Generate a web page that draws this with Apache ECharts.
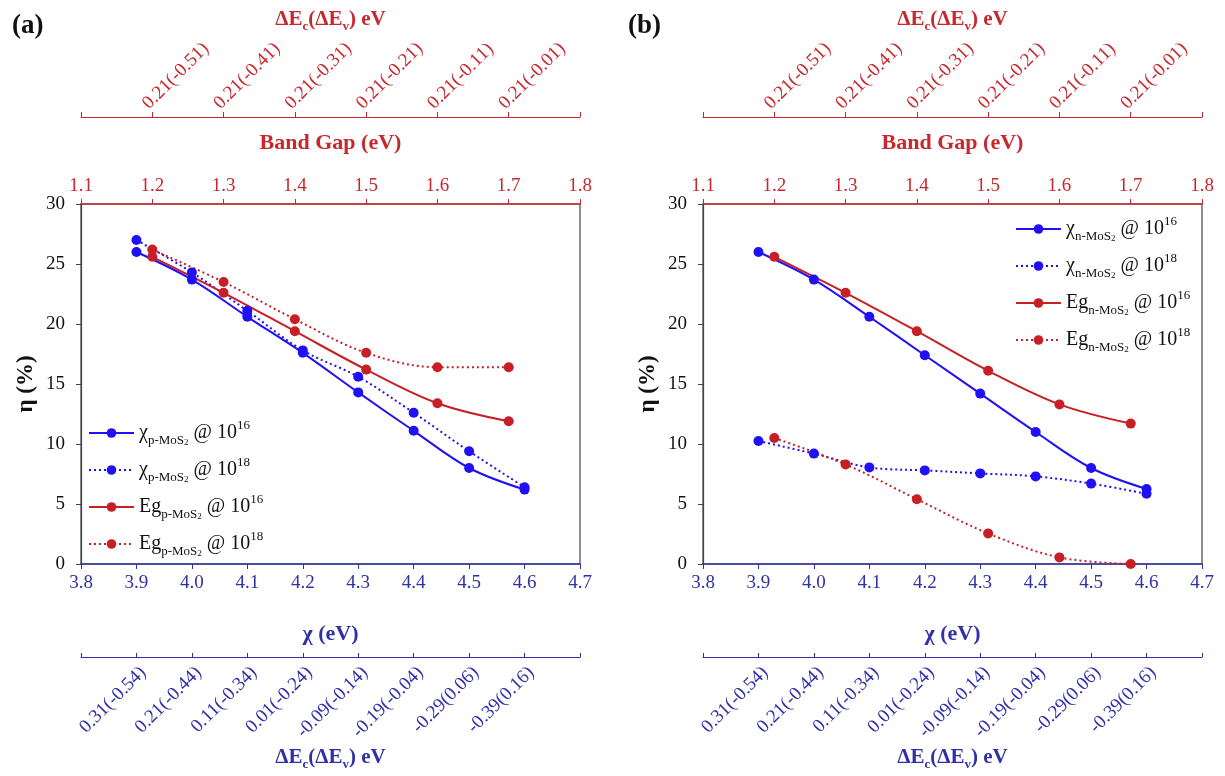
<!DOCTYPE html>
<html><head><meta charset="utf-8">
<script src="https://cdn.jsdelivr.net/npm/echarts@6/dist/echarts.min.js"></script>
<style>html,body{margin:0;padding:0;background:#fff}#c{width:1225px;height:776px}</style>
</head><body><div id="c"></div>
<script>
// ---- data ----
const chiValues = [3.9, 4.0, 4.1, 4.2, 4.3, 4.4, 4.5, 4.6];
const bandGapValues = [1.2, 1.3, 1.4, 1.5, 1.6, 1.7];
const topOffsetLabels = ['0.21(-0.51)', '0.21(-0.41)', '0.21(-0.31)', '0.21(-0.21)', '0.21(-0.11)', '0.21(-0.01)'];
const bottomOffsetLabels = ['0.31(-0.54)', '0.21(-0.44)', '0.11(-0.34)', '0.01(-0.24)', '-0.09(-0.14)', '-0.19(-0.04)', '-0.29(0.06)', '-0.39(0.16)'];
// panel (a) p-MoS2
const aChi16 = [26.0, 23.7, 20.6, 17.6, 14.3, 11.1, 8.0, 6.2];
const aChi18 = [27.0, 24.3, 21.1, 17.8, 15.6, 12.6, 9.4, 6.4];
const aEg16 = [25.6, 22.6, 19.4, 16.2, 13.4, 11.9];
const aEg18 = [26.2, 23.5, 20.4, 17.6, 16.4, 16.4];
// panel (b) n-MoS2
const bChi16 = [26.0, 23.7, 20.6, 17.4, 14.2, 11.0, 8.0, 6.25];
const bChi18 = [10.25, 9.2, 8.05, 7.8, 7.55, 7.3, 6.7, 5.85];
const bEg16 = [25.6, 22.6, 19.4, 16.1, 13.3, 11.7];
const bEg18 = [10.5, 8.3, 5.4, 2.55, 0.55, 0.0];

// ---- style ----
const FONT = 'Liberation Serif';
const BLUE = '#2010f5';
const RED = '#c62026';
const BLUE_AX = '#3030a8';
const RED_AX = '#c8282d';
const GREY = '#444';

const grids = [
  {left: 81, top: 204, width: 499, height: 360},
  {left: 703, top: 204, width: 499, height: 360}
];

function lookup(vals, labels) {
  return function (v) {
    for (let i = 0; i < vals.length; i++) if (Math.abs(vals[i] - v) < 1e-6) return labels[i];
    return '';
  };
}

const deltaName = '{b|ΔE}{s|c}{b|(ΔE}{s|v}{b|) eV}';
function deltaNameStyle(color) {
  return {
    color: color, fontFamily: FONT, fontWeight: 'bold', fontSize: 21,
    rich: {
      b: {color: color, fontFamily: FONT, fontWeight: 'bold', fontSize: 21, lineHeight: 26},
      s: {color: color, fontFamily: FONT, fontWeight: 'bold', fontSize: 13, lineHeight: 10, verticalAlign: 'bottom'}
    }
  };
}

const xAxes = [], yAxes = [];
grids.forEach((g, gi) => {
  // bottom chi axis
  xAxes.push({
    type: 'value', gridIndex: gi, position: 'bottom', min: 3.8, max: 4.7, interval: 0.1,
    axisLine: {show: true, onZero: false, lineStyle: {color: BLUE_AX, width: 1.5}},
    axisTick: {show: true, length: 5, lineStyle: {color: BLUE_AX}},
    axisLabel: {color: BLUE_AX, fontFamily: FONT, fontSize: 19, margin: 10, formatter: v => v.toFixed(1)},
    splitLine: {show: false},
    name: 'χ (eV)', nameLocation: 'middle', nameGap: 59,
    nameTextStyle: {color: BLUE_AX, fontFamily: FONT, fontWeight: 'bold', fontSize: 22}
  });
  // top band gap axis
  xAxes.push({
    type: 'value', gridIndex: gi, position: 'top', min: 1.1, max: 1.8, interval: 0.1,
    axisLine: {show: true, onZero: false, lineStyle: {color: RED_AX, width: 1.5}},
    axisTick: {show: true, length: 5, lineStyle: {color: RED_AX}},
    axisLabel: {color: RED_AX, fontFamily: FONT, fontSize: 19, margin: 8, formatter: v => v.toFixed(1)},
    splitLine: {show: false},
    name: 'Band Gap (eV)', nameLocation: 'middle', nameGap: 50,
    nameTextStyle: {color: RED_AX, fontFamily: FONT, fontWeight: 'bold', fontSize: 22}
  });
  // top offset axis (ΔEc(ΔEv))
  xAxes.push({
    type: 'value', gridIndex: gi, position: 'top', offset: 87, min: 1.1, max: 1.8, interval: 0.1,
    axisLine: {show: true, onZero: false, lineStyle: {color: RED_AX, width: 1.2}},
    axisTick: {show: true, length: 5, lineStyle: {color: RED_AX}},
    axisLabel: {color: RED_AX, fontFamily: FONT, fontSize: 19, margin: 4, rotate: -45,
      verticalAlign: 'bottom',
      showMinLabel: true, showMaxLabel: true, formatter: lookup(bandGapValues, topOffsetLabels)},
    splitLine: {show: false},
    name: deltaName, nameLocation: 'middle', nameGap: 84,
    nameTextStyle: deltaNameStyle(RED_AX)
  });
  // bottom offset axis (ΔEc(ΔEv))
  xAxes.push({
    type: 'value', gridIndex: gi, position: 'bottom', offset: 93, min: 3.8, max: 4.7, interval: 0.1,
    axisLine: {show: true, onZero: false, lineStyle: {color: BLUE_AX, width: 1.2}},
    axisTick: {show: true, inside: true, length: 4, lineStyle: {color: BLUE_AX}},
    axisLabel: {color: BLUE_AX, fontFamily: FONT, fontSize: 19, margin: 6, rotate: 45,
      verticalAlign: 'top',
      showMinLabel: true, showMaxLabel: true, formatter: lookup(chiValues, bottomOffsetLabels)},
    splitLine: {show: false},
    name: deltaName, nameLocation: 'middle', nameGap: 88,
    nameTextStyle: deltaNameStyle(BLUE_AX)
  });
  yAxes.push({
    type: 'value', gridIndex: gi, min: 0, max: 30, interval: 5,
    axisLine: {show: true, onZero: false, lineStyle: {color: GREY, width: 1.2}},
    axisTick: {show: true, length: 5, lineStyle: {color: GREY}},
    axisLabel: {color: '#111', fontFamily: FONT, fontSize: 19, margin: 16},
    splitLine: {show: false},
    name: 'η (%)', nameLocation: 'middle', nameGap: 43, nameRotate: 90, nameMoveOverlap: false,
    nameTextStyle: {color: '#111', fontFamily: FONT, fontWeight: 'bold', fontSize: 23}
  });
});

function mkSeries(name, gi, isChi, values, color, dotted) {
  const xs = isChi ? chiValues : bandGapValues;
  return {
    type: 'line', name: name,
    xAxisIndex: gi * 4 + (isChi ? 0 : 1), yAxisIndex: gi,
    data: xs.map((x, i) => [x, values[i]]),
    smooth: 0.35, symbol: 'circle', symbolSize: 10, showSymbol: true,
    lineStyle: {color: color, width: 2, type: dotted ? [2, 3] : 'solid'},
    itemStyle: {color: color},
    emphasis: {disabled: true}
  };
}

const series = [
  mkSeries('aC16', 0, true, aChi16, BLUE, false),
  mkSeries('aC18', 0, true, aChi18, BLUE, true),
  mkSeries('aE16', 0, false, aEg16, RED, false),
  mkSeries('aE18', 0, false, aEg18, RED, true),
  mkSeries('bC16', 1, true, bChi16, BLUE, false),
  mkSeries('bC18', 1, true, bChi18, BLUE, true),
  mkSeries('bE16', 1, false, bEg16, RED, false),
  mkSeries('bE18', 1, false, bEg18, RED, true)
];

const legendText = {
  aC16: '{m|χ}{s|p-MoS}{t|2}{m| @ 10}{p|16}',
  aC18: '{m|χ}{s|p-MoS}{t|2}{m| @ 10}{p|18}',
  aE16: '{m|Eg}{s|p-MoS}{t|2}{m| @ 10}{p|16}',
  aE18: '{m|Eg}{s|p-MoS}{t|2}{m| @ 10}{p|18}',
  bC16: '{m|χ}{s|n-MoS}{t|2}{m| @ 10}{p|16}',
  bC18: '{m|χ}{s|n-MoS}{t|2}{m| @ 10}{p|18}',
  bE16: '{m|Eg}{s|n-MoS}{t|2}{m| @ 10}{p|16}',
  bE18: '{m|Eg}{s|n-MoS}{t|2}{m| @ 10}{p|18}'
};
const legendRich = {
  m: {fontFamily: FONT, fontSize: 20, color: '#111', lineHeight: 28},
  s: {fontFamily: FONT, fontSize: 13, color: '#111', lineHeight: 10, verticalAlign: 'bottom'},
  t: {fontFamily: FONT, fontSize: 9, color: '#111', lineHeight: 4, verticalAlign: 'bottom'},
  p: {fontFamily: FONT, fontSize: 13, color: '#111', lineHeight: 10, verticalAlign: 'top'}
};
function mkLegend(names, left, top) {
  return {
    data: names, orient: 'vertical', left: left, top: top, itemGap: 9,
    itemWidth: 45, itemHeight: 12, selectedMode: false,
    formatter: n => legendText[n],
    textStyle: {rich: legendRich, fontFamily: FONT, fontSize: 20, color: '#111'}
  };
}

const option = {
  animation: false,
  backgroundColor: '#fff',
  title: [
    {text: '(a)', left: 7, top: 8, textStyle: {fontFamily: FONT, fontSize: 27, fontWeight: 'bold', color: '#111'}},
    {text: '(b)', left: 623, top: 8, textStyle: {fontFamily: FONT, fontSize: 27, fontWeight: 'bold', color: '#111'}}
  ],
  grid: grids.map(g => Object.assign({show: true, borderColor: GREY, borderWidth: 1.2, backgroundColor: 'transparent', containLabel: false}, g)),
  xAxis: xAxes,
  yAxis: yAxes,
  legend: [
    mkLegend(['aC16', 'aC18', 'aE16', 'aE18'], 83, 414),
    mkLegend(['bC16', 'bC18', 'bE16', 'bE18'], 1010, 210)
  ],
  series: series
};
const chart = echarts.init(document.getElementById('c'), null, {renderer: 'canvas'});
chart.setOption(option);
</script>
</body></html>
